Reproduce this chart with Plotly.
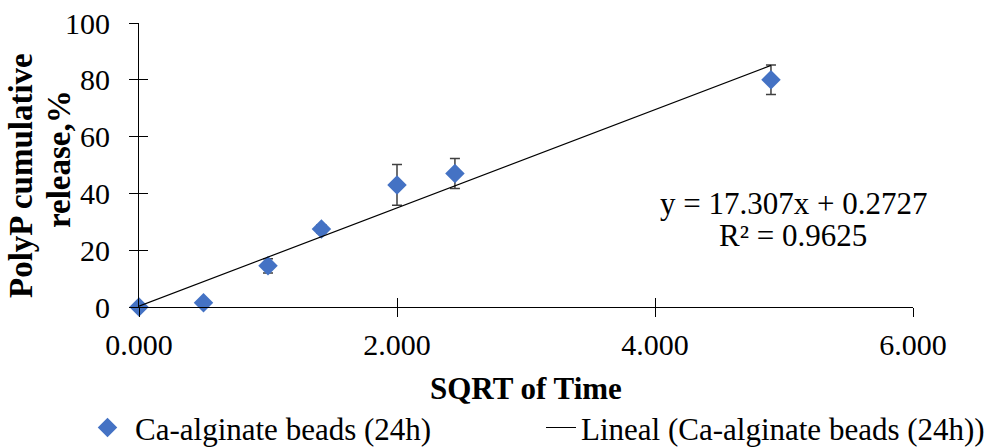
import plotly.graph_objects as go

# ---- data ----
sqrt_time = [0.0, 0.5, 1.0, 1.414, 2.0, 2.449, 4.899]
release_pct = [0.0, 1.5, 14.5, 27.5, 43.0, 47.0, 80.0]
release_err = [0.0, 0.0, 2.5, 1.5, 7.2, 5.3, 5.2]
slope = 17.307
intercept = 0.2727
r2 = 0.9625
series_name = "Ca-alginate beads (24h)"
trend_name = "Lineal (Ca-alginate beads (24h))"
x_ticks = [0, 2, 4, 6]
y_ticks = [0, 20, 40, 60, 80, 100]

FONT = "Liberation Serif, Times New Roman, serif"

trend_x = [min(sqrt_time), max(sqrt_time)]
trend_y = [slope * v + intercept for v in trend_x]

fig = go.Figure()
fig.add_trace(go.Scatter(
    x=sqrt_time, y=release_pct, mode="markers", name=series_name,
    marker=dict(symbol="diamond", size=15, color="#4472C4"),
    error_y=dict(type="data", array=release_err, visible=True,
                 color="#404040", thickness=1.5, width=5),
    cliponaxis=False,
    legend="legend",
))
fig.add_trace(go.Scatter(
    x=trend_x, y=trend_y, mode="lines", name=trend_name,
    line=dict(color="black", width=1.2),
    cliponaxis=False,
    legend="legend2",
))
# invisible trace on overlay axes to draw inside half of crossing ticks
fig.add_trace(go.Scatter(x=[None], y=[None], xaxis="x2", yaxis="y2",
                         showlegend=False, hoverinfo="skip"))

fig.update_layout(
    width=1000, height=448,
    margin=dict(l=139, r=87, t=23, b=141, autoexpand=False),
    paper_bgcolor="white", plot_bgcolor="white",
    font=dict(family=FONT, size=30, color="black"),
    xaxis=dict(range=[0, 6], tickvals=x_ticks, tickformat=".3f",
               showline=True, linecolor="black", linewidth=1,
               ticks="outside", ticklen=9, tickcolor="black", tickwidth=1,
               showgrid=False, zeroline=False, ticklabelstandoff=2,
               tickfont=dict(size=30)),
    yaxis=dict(range=[0, 100], tickvals=y_ticks,
               showline=True, linecolor="black", linewidth=1,
               ticks="outside", ticklen=9, tickcolor="black", tickwidth=1,
               showgrid=False, zeroline=False, ticklabelstandoff=13,
               tickfont=dict(size=30)),
    xaxis2=dict(range=[0, 6], tickvals=x_ticks, overlaying="x",
                ticks="inside", ticklen=9, tickcolor="black", tickwidth=1,
                showticklabels=False, showgrid=False, zeroline=False,
                showline=False, side="bottom"),
    yaxis2=dict(range=[0, 100], tickvals=y_ticks, overlaying="y",
                ticks="inside", ticklen=9, tickcolor="black", tickwidth=1,
                showticklabels=False, showgrid=False, zeroline=False,
                showline=False, side="left"),
    showlegend=True,
    legend=dict(orientation="h", xref="container", yref="container",
                x=0.080, y=0.045, xanchor="left", yanchor="middle",
                font=dict(size=31), itemwidth=45,
                bgcolor="rgba(0,0,0,0)"),
    legend2=dict(orientation="h", xref="container", yref="container",
                 x=0.541, y=0.045, xanchor="left", yanchor="middle",
                 font=dict(size=31),
                 bgcolor="rgba(0,0,0,0)"),
)

fig.add_annotation(text="<b>SQRT of Time</b>", xref="paper", yref="paper",
                   x=0.5, y=-(388 - 307) / 284, xanchor="center", yanchor="middle",
                   showarrow=False, font=dict(size=31))
fig.add_annotation(text="<b>PolyP cumulative</b>", xref="paper", yref="paper",
                   x=-(139 - 21) / 774, y=(307 - 176) / 284, textangle=-90,
                   xanchor="center", yanchor="middle", showarrow=False,
                   font=dict(size=33))
fig.add_annotation(text="<b>release,%</b>", xref="paper", yref="paper",
                   x=-(139 - 59) / 774, y=(307 - 159) / 284, textangle=-90,
                   xanchor="center", yanchor="middle", showarrow=False,
                   font=dict(size=33))
fig.add_annotation(text=f"y = {slope}x + {intercept}", xref="paper", yref="paper",
                   x=(793 - 139) / 774, y=(307 - 203) / 284,
                   xanchor="center", yanchor="middle", showarrow=False,
                   font=dict(size=31))
fig.add_annotation(text=f"R² = {r2}", xref="paper", yref="paper",
                   x=(793 - 139) / 774, y=(307 - 235) / 284,
                   xanchor="center", yanchor="middle", showarrow=False,
                   font=dict(size=31))

fig.write_html("out.html")
